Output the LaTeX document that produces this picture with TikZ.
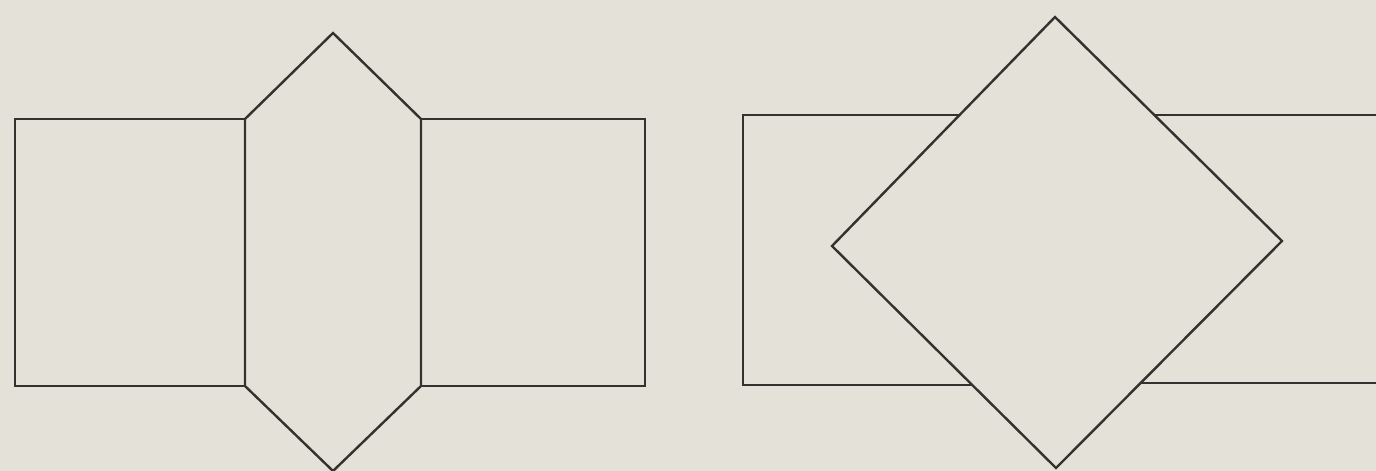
\documentclass[tikz,border=0pt]{standalone}
\definecolor{paper}{RGB}{228,225,216}
\definecolor{ink}{RGB}{52,50,46}
\begin{document}
\begin{tikzpicture}[x=1pt,y=-1pt,
  outline/.style={draw=ink,line width=2.4pt,line join=miter},
  cover/.style={outline,fill=paper}]
\fill[paper] (0,0) rectangle (1376,471);
\useasboundingbox (0,0) rectangle (1376,471);
% left figure
\coordinate (hl) at (245,119);
\coordinate (ht) at (333,33);
\coordinate (hr) at (421,119);
\coordinate (hbr) at (421,386);
\coordinate (hb) at (333,471);
\coordinate (hbl) at (245,386);
\draw[outline] (15,119) rectangle (hbl);
\draw[outline] (hr) rectangle (645,386);
\draw[outline] (hl) -- (ht) -- (hr) -- (hbr) -- (hb) -- (hbl) -- cycle;
% right figure
\draw[outline] (1000,115) -- (743,115) -- (743,385) -- (1000,385);
\draw[outline] (1100,115) -- (1378,115);
\draw[outline] (1100,383) -- (1378,383);
\coordinate (dt) at (1055,17);
\coordinate (dr) at (1282,241);
\coordinate (db) at (1056,468);
\coordinate (dl) at (832,246);
\draw[cover] (dt) -- (dr) -- (db) -- (dl) -- cycle;
\end{tikzpicture}
\end{document}
